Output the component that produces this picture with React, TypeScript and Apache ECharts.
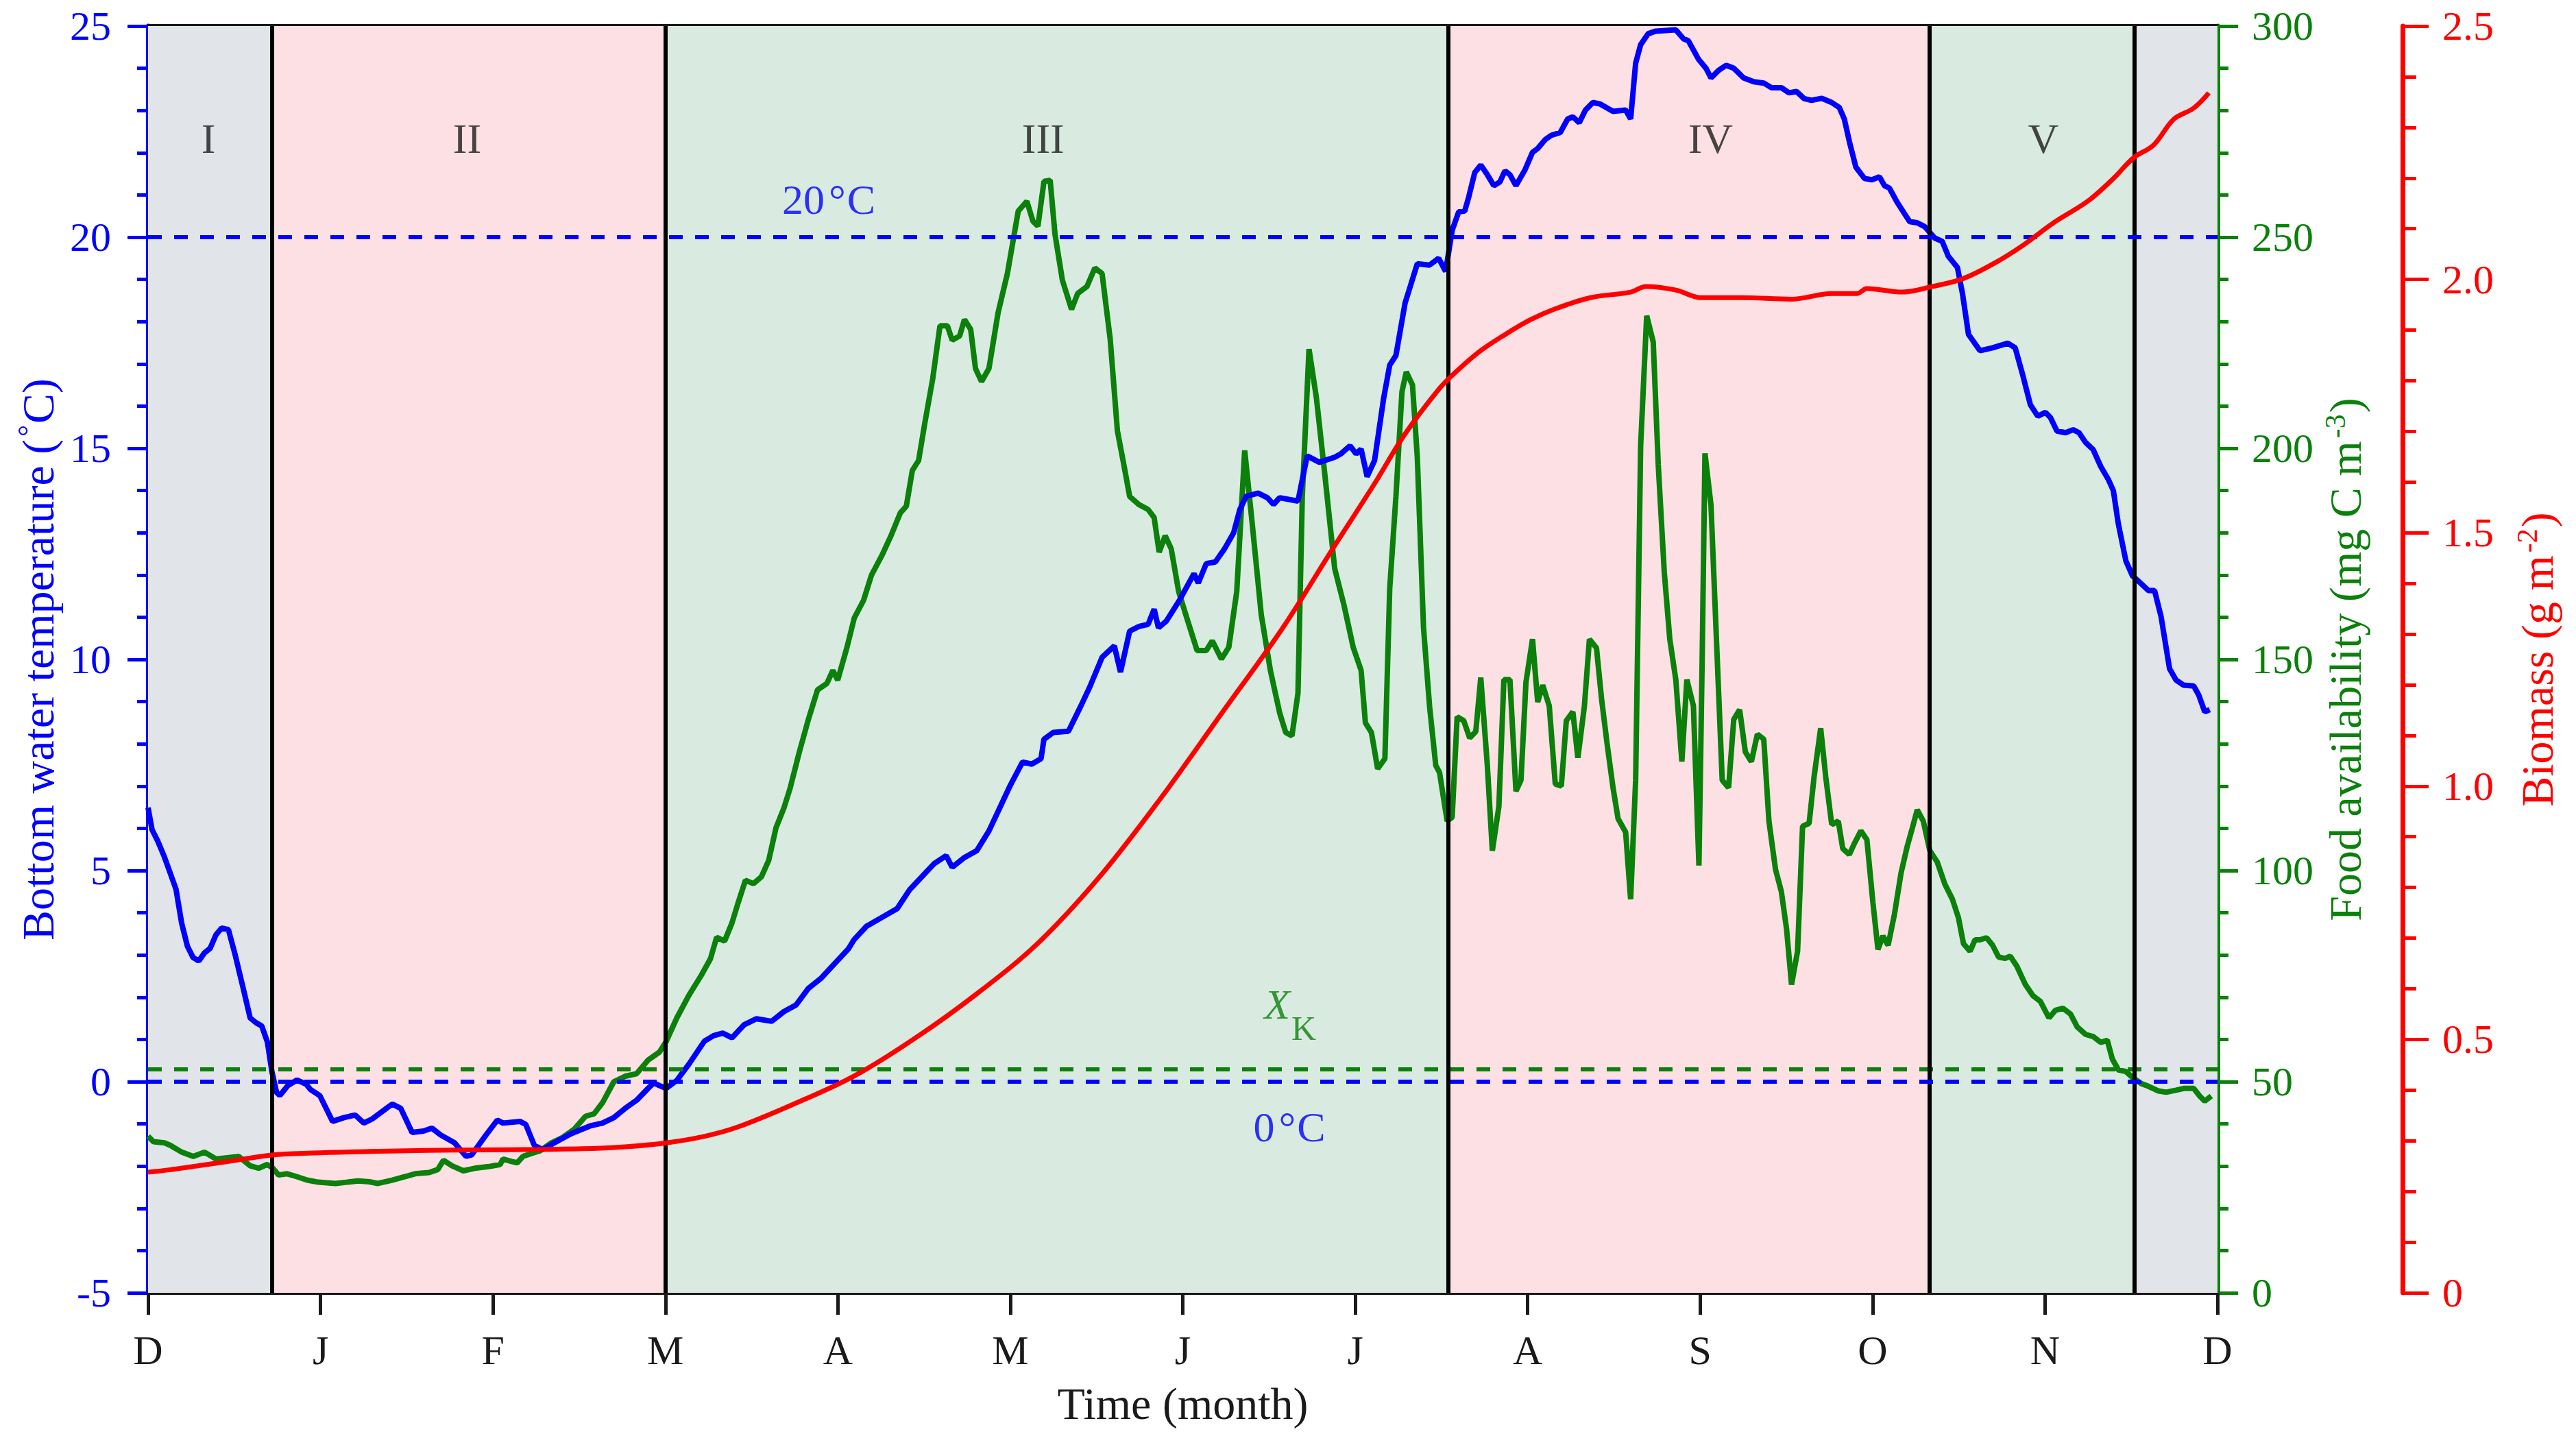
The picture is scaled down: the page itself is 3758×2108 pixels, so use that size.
import React, { useEffect, useRef } from 'react';
import * as echarts from 'echarts';

const FONT = "'Liberation Serif', 'Times New Roman', serif";
const BLUE = '#0000FF';
const GREEN = '#0B800B';
const RED = '#FF0000';
const DARK = '#1A1A1A';

const MONTH_LABELS = ['D', 'J', 'F', 'M', 'A', 'M', 'J', 'J', 'A', 'S', 'O', 'N', 'D'];
const PERIOD_EDGES = [0, 0.72, 3.0, 7.545, 10.33, 11.52, 12];
const PERIOD_COLORS = ['#E1E5EA', '#FDE0E4', '#D9EBE0', '#FDE0E4', '#D9EBE0', '#E1E5EA'];
const PERIOD_NAMES = ['I', 'II', 'III', 'IV', 'V'];
const PERIOD_LABEL_X = [0.35, 1.85, 5.19, 9.06, 10.99];
const PERIOD_LABEL_T = 22.34;
const TEMP_REFS = [20, 0];
const TEMP_REF_LABELS = [
  { x: 3.947, t: 20.89, text: '20' },
  { x: 6.618, t: -1.07, text: '0' },
];
const FOOD_XK = 53;
const XK_X = [6.547, 1.83];
const XK_K = [6.702, 1.27];

const TEMPERATURE = [
  [0, 6.49], [0.023, 5.97], [0.056, 5.7], [0.095, 5.32], [0.162, 4.56], [0.195, 3.75], [0.228, 3.21],
  [0.261, 2.94], [0.294, 2.86], [0.327, 3.05], [0.36, 3.16], [0.394, 3.48], [0.427, 3.64], [0.466, 3.6],
  [0.506, 2.99], [0.553, 2.19], [0.592, 1.51], [0.625, 1.4], [0.659, 1.32], [0.692, 0.94], [0.718, 0.24],
  [0.745, -0.25], [0.764, -0.33], [0.811, -0.09], [0.864, 0.04], [0.917, -0.06], [0.943, -0.19], [0.996, -0.33],
  [1.07, -0.94], [1.136, -0.85], [1.201, -0.79], [1.251, -0.98], [1.3, -0.88], [1.383, -0.63], [1.416, -0.53],
  [1.465, -0.63], [1.531, -1.2], [1.597, -1.17], [1.646, -1.1], [1.696, -1.26], [1.778, -1.45], [1.844, -1.77],
  [1.877, -1.73], [1.96, -1.26], [2.025, -0.91], [2.058, -0.98], [2.157, -0.94], [2.19, -1.01], [2.24, -1.51],
  [2.289, -1.61], [2.355, -1.45], [2.454, -1.23], [2.569, -1.04], [2.635, -0.98], [2.701, -0.85], [2.767, -0.63],
  [2.833, -0.44], [2.899, -0.16], [2.932, -0.03], [2.965, -0.09], [3.004, -0.16],
  [3.066, 0.03], [3.137, 0.42], [3.226, 0.96], [3.279, 1.09], [3.332, 1.15], [3.386, 1.04], [3.457, 1.35],
  [3.528, 1.49], [3.616, 1.43], [3.687, 1.66], [3.758, 1.82], [3.829, 2.21], [3.9, 2.44], [3.971, 2.75],
  [4.06, 3.14], [4.095, 3.37], [4.166, 3.68], [4.255, 3.89], [4.344, 4.1], [4.415, 4.54], [4.486, 4.85],
  [4.557, 5.16], [4.628, 5.35], [4.663, 5.08], [4.734, 5.31], [4.805, 5.47], [4.876, 5.94], [4.929, 6.4],
  [5.0, 7.02], [5.071, 7.57], [5.124, 7.52], [5.178, 7.65], [5.195, 8.11], [5.249, 8.27], [5.337, 8.3],
  [5.408, 8.89], [5.461, 9.35], [5.532, 10.05], [5.603, 10.32], [5.639, 9.7], [5.692, 10.67], [5.745, 10.78],
  [5.799, 10.83], [5.834, 11.19], [5.859, 10.75], [5.905, 10.91], [5.976, 11.37], [6.065, 12.03], [6.09, 11.81],
  [6.136, 12.27], [6.189, 12.31], [6.242, 12.62], [6.295, 13.0], [6.331, 13.55], [6.367, 13.86], [6.437, 13.94],
  [6.491, 13.83], [6.526, 13.67], [6.562, 13.83], [6.668, 13.75], [6.721, 14.82], [6.792, 14.67], [6.881, 14.79],
  [6.917, 14.87], [6.97, 15.06], [7.005, 14.87], [7.034, 14.98], [7.069, 14.33], [7.112, 14.71], [7.165, 16.19],
  [7.2, 16.97], [7.236, 17.2], [7.289, 18.44], [7.36, 19.37], [7.431, 19.34], [7.484, 19.5],
  [7.524, 19.19], [7.562, 20.16], [7.6, 20.6], [7.635, 20.62], [7.658, 20.95], [7.693, 21.53], [7.728, 21.71],
  [7.766, 21.48], [7.804, 21.22], [7.839, 21.31], [7.868, 21.57], [7.897, 21.48], [7.932, 21.22], [7.985, 21.6],
  [8.028, 22.01], [8.058, 22.1], [8.101, 22.31], [8.136, 22.41], [8.189, 22.48], [8.232, 22.8], [8.262, 22.85],
  [8.299, 22.71], [8.335, 23.01], [8.378, 23.19], [8.422, 23.15], [8.495, 22.98], [8.568, 23.01], [8.597, 22.8],
  [8.626, 24.12], [8.655, 24.56], [8.699, 24.82], [8.743, 24.88], [8.859, 24.91], [8.903, 24.7], [8.932, 24.65],
  [8.991, 24.21], [9.034, 24.0], [9.063, 23.77], [9.107, 23.95], [9.151, 24.07], [9.195, 24.0], [9.253, 23.77],
  [9.311, 23.68], [9.369, 23.65], [9.413, 23.54], [9.471, 23.54], [9.515, 23.42], [9.559, 23.45], [9.603, 23.28],
  [9.646, 23.24], [9.705, 23.29], [9.763, 23.19], [9.807, 23.07], [9.836, 22.8], [9.865, 22.27], [9.903, 21.66],
  [9.953, 21.39], [9.996, 21.36], [10.04, 21.43], [10.069, 21.22], [10.098, 21.16], [10.142, 20.83], [10.186, 20.55],
  [10.215, 20.37], [10.259, 20.34], [10.302, 20.25], [10.36, 19.98], [10.404, 19.9], [10.439, 19.55], [10.492, 19.28],
  [10.521, 18.67], [10.556, 17.7], [10.623, 17.31], [10.696, 17.38], [10.784, 17.49], [10.827, 17.38], [10.871, 16.73],
  [10.915, 16.03], [10.958, 15.76], [11.002, 15.85], [11.031, 15.73], [11.069, 15.41], [11.119, 15.37], [11.163, 15.44],
  [11.197, 15.37], [11.235, 15.14], [11.279, 14.97], [11.323, 14.57], [11.366, 14.27], [11.396, 14.0], [11.425, 13.21],
  [11.469, 12.33], [11.507, 11.98], [11.556, 11.8], [11.6, 11.63], [11.635, 11.63], [11.673, 11.01], [11.722, 9.78],
  [11.76, 9.51], [11.804, 9.39], [11.862, 9.37], [11.891, 9.16], [11.926, 8.76], [11.955, 8.81],
];

const FOOD = [
  [0, 37.1], [0.031, 35.8], [0.097, 35.5], [0.13, 34.9], [0.196, 33.3], [0.262, 32.3], [0.328, 33.3],
  [0.394, 31.7], [0.46, 32.0], [0.526, 32.3], [0.592, 30.1], [0.641, 29.5], [0.691, 30.4], [0.724, 29.5],
  [0.757, 27.9], [0.806, 28.2], [0.856, 27.6], [0.922, 26.7], [0.987, 26.2], [1.086, 25.9], [1.152, 26.2],
  [1.218, 26.5], [1.284, 26.3], [1.333, 25.9], [1.416, 26.7], [1.498, 27.6], [1.548, 28.2], [1.63, 28.5],
  [1.68, 29.2], [1.713, 31.4], [1.762, 30.1], [1.828, 28.9], [1.894, 29.5], [1.976, 29.9], [2.042, 30.4],
  [2.058, 31.7], [2.108, 31.1], [2.141, 30.8], [2.174, 32.3], [2.223, 33.0], [2.272, 33.6], [2.338, 35.5],
  [2.404, 36.8], [2.47, 38.7], [2.536, 41.8], [2.586, 42.4], [2.635, 45.0], [2.701, 50.0], [2.767, 51.3],
  [2.833, 51.9], [2.899, 55.1], [2.965, 57.0], [3.004, 59.5],
  [3.066, 65.1], [3.137, 70.5], [3.208, 75.2], [3.261, 79.1], [3.297, 84.2], [3.343, 83.3], [3.386, 87.6],
  [3.421, 92.3], [3.464, 97.7], [3.51, 96.9], [3.556, 98.5], [3.599, 102.4], [3.641, 110.1], [3.687, 114.8],
  [3.723, 119.5], [3.776, 128.0], [3.829, 135.8], [3.882, 142.8], [3.936, 144.3], [3.971, 147.4], [3.999, 145.1],
  [4.053, 152.9], [4.095, 159.8], [4.149, 164.0], [4.195, 170.0], [4.255, 174.6], [4.308, 179.3], [4.362, 184.7],
  [4.397, 186.3], [4.432, 194.8], [4.468, 197.1], [4.503, 205.7], [4.55, 216.5], [4.592, 229.0], [4.635, 229.0],
  [4.663, 225.6], [4.706, 226.6], [4.734, 230.5], [4.77, 228.2], [4.798, 218.9], [4.833, 215.8], [4.876, 218.9],
  [4.929, 232.1], [4.983, 241.4], [5.046, 256.2], [5.096, 258.5], [5.131, 253.8], [5.16, 252.6], [5.195, 263.2],
  [5.231, 263.5], [5.259, 250.7], [5.302, 239.8], [5.355, 232.9], [5.391, 236.7], [5.444, 238.3], [5.49, 242.7],
  [5.532, 241.4], [5.579, 225.9], [5.621, 204.1], [5.657, 196.4], [5.692, 188.6], [5.745, 186.7], [5.799, 185.5],
  [5.834, 183.6], [5.863, 175.4], [5.898, 179.3], [5.933, 176.2], [5.976, 166.1], [6.029, 159.1], [6.083, 152.1],
  [6.136, 152.1], [6.171, 154.4], [6.224, 150.1], [6.267, 152.9], [6.313, 166.1], [6.359, 199.5], [6.402, 182.4],
  [6.455, 160.6], [6.508, 147.4], [6.562, 137.3], [6.597, 132.7], [6.633, 131.9], [6.668, 142.0], [6.693, 188.6],
  [6.732, 223.5], [6.775, 211.9], [6.821, 194.8], [6.881, 171.5], [6.934, 163.0], [6.988, 152.9], [7.034, 147.4],
  [7.059, 135.0], [7.094, 132.7], [7.13, 124.1], [7.172, 126.5], [7.2, 166.8], [7.236, 188.6], [7.271, 213.4],
  [7.296, 218.1], [7.332, 215.0], [7.36, 197.9], [7.396, 157.5], [7.431, 138.9], [7.467, 124.9],
  [7.489, 123.2], [7.533, 111.7], [7.562, 112.6], [7.591, 136.4], [7.629, 135.5], [7.664, 131.4], [7.699, 132.9],
  [7.728, 145.7], [7.766, 124.9], [7.795, 104.7], [7.833, 115.2], [7.862, 145.2], [7.897, 145.2], [7.932, 118.8],
  [7.961, 121.4], [7.99, 144.6], [8.028, 154.8], [8.058, 139.9], [8.087, 143.9], [8.125, 139.0], [8.16, 120.5],
  [8.195, 120.0], [8.224, 135.5], [8.262, 137.6], [8.291, 126.7], [8.329, 139.0], [8.358, 154.8], [8.399, 152.7],
  [8.428, 140.8], [8.46, 130.2], [8.495, 119.6], [8.524, 112.3], [8.568, 109.1], [8.597, 93.2], [8.626, 121.4],
  [8.655, 200.6], [8.69, 231.4], [8.728, 225.2], [8.757, 196.2], [8.792, 170.7], [8.824, 154.8], [8.859, 145.2],
  [8.894, 125.8], [8.923, 145.2], [8.961, 139.0], [8.993, 101.2], [9.011, 147.8], [9.028, 198.8], [9.063, 186.5],
  [9.098, 151.3], [9.128, 121.4], [9.165, 119.6], [9.195, 135.8], [9.229, 138.1], [9.262, 128.1], [9.297, 125.8],
  [9.332, 132.3], [9.369, 131.1], [9.399, 111.7], [9.437, 100.3], [9.471, 95.0], [9.501, 86.2], [9.53, 73.0],
  [9.565, 80.9], [9.594, 110.5], [9.632, 111.2], [9.661, 122.3], [9.699, 133.7], [9.728, 122.3], [9.763, 110.9],
  [9.801, 111.7], [9.827, 105.2], [9.865, 103.8], [9.894, 106.4], [9.932, 109.4], [9.967, 107.3], [10.002, 92.4],
  [10.031, 81.3], [10.06, 84.5], [10.09, 82.3], [10.127, 89.7], [10.165, 99.4], [10.2, 105.6], [10.23, 110.0],
  [10.259, 114.4], [10.294, 111.7], [10.332, 104.7], [10.375, 102.0], [10.419, 96.8], [10.463, 93.2], [10.498, 88.8],
  [10.527, 82.7], [10.565, 80.9], [10.594, 83.6], [10.623, 83.6], [10.661, 84.1], [10.696, 82.3], [10.731, 79.5],
  [10.769, 79.2], [10.798, 79.7], [10.836, 77.4], [10.886, 73.0], [10.929, 70.4], [10.973, 69.0], [11.023, 65.1],
  [11.06, 66.9], [11.104, 67.4], [11.148, 66.0], [11.186, 63.0], [11.235, 61.2], [11.279, 60.7], [11.323, 59.3],
  [11.361, 59.8], [11.39, 55.4], [11.425, 52.8], [11.469, 52.4], [11.507, 51.0], [11.556, 49.6], [11.6, 48.9],
  [11.658, 47.8], [11.702, 47.5], [11.76, 48.0], [11.804, 48.4], [11.862, 48.4], [11.897, 46.6], [11.926, 45.4],
  [11.964, 46.6],
];

const BIOMASS = [
  [0, 0.238], [0.13, 0.243], [0.295, 0.251], [0.46, 0.259], [0.717, 0.272], [0.955, 0.276], [1.284, 0.279],
  [1.614, 0.281], [1.943, 0.282], [2.272, 0.283], [2.602, 0.285], [2.767, 0.288], [3.004, 0.296], [3.228, 0.309],
  [3.426, 0.328], [3.741, 0.372], [4.095, 0.428], [4.45, 0.503], [4.805, 0.59], [5.16, 0.69], [5.515, 0.82],
  [5.87, 0.975], [6.224, 1.143], [6.579, 1.312], [6.863, 1.465], [7.112, 1.597], [7.289, 1.695], [7.489, 1.785],
  [7.576, 1.815], [7.722, 1.858], [7.868, 1.891], [8.014, 1.92], [8.16, 1.942], [8.364, 1.964], [8.597, 1.975],
  [8.685, 1.986], [8.859, 1.979], [9.005, 1.964], [9.238, 1.964], [9.53, 1.961], [9.763, 1.972], [9.909, 1.972],
  [9.967, 1.982], [10.171, 1.975], [10.346, 1.986], [10.521, 2.001], [10.696, 2.03], [10.871, 2.067], [11.046, 2.111],
  [11.25, 2.155], [11.396, 2.199], [11.513, 2.24], [11.629, 2.265], [11.746, 2.316], [11.862, 2.338], [11.95, 2.368],
];

const dashed = (color: string) => ({ color, width: 6, type: [20, 18] as number[] });

function buildOption() {
  const tickLabel = (color: string, margin: number) => ({
    fontSize: 60,
    fontFamily: FONT,
    color,
    margin,
  });
  const yAxisBase = (color: string, major: number, minor: number) => ({
    type: 'value',
    axisLine: { show: true, onZero: false, lineStyle: { color, width: 7 } },
    axisTick: { show: true, inside: false, length: major, lineStyle: { color, width: 5 } },
    minorTick: { show: true, splitNumber: 5, length: minor, lineStyle: { color, width: 5 } },
    splitLine: { show: false },
    nameLocation: 'middle',
    nameRotate: 90,
  });
  const richName = (color: string) => ({
    fontFamily: FONT,
    color,
    rich: {
      a: { fontSize: 66, fontFamily: FONT, color, lineHeight: 70 },
      s: { fontSize: 42, fontFamily: FONT, color, lineHeight: 42, verticalAlign: 'top', padding: [0, 2, 0, 4] },
    },
  });

  const bands = PERIOD_COLORS.map((c, i) => [
    { xAxis: PERIOD_EDGES[i], itemStyle: { color: c } },
    { xAxis: PERIOD_EDGES[i + 1] },
  ]);
  const boundaries = PERIOD_EDGES.slice(1, -1).map((x) => ({
    xAxis: x,
    lineStyle: { color: '#000000', width: 6, type: 'solid' },
  }));

  return {
    animation: false,
    backgroundColor: '#ffffff',
    grid: { left: 216, right: 523, top: 38, bottom: 222, containLabel: false },
    xAxis: [
      {
        type: 'value',
        min: 0,
        max: 12,
        interval: 1,
        position: 'bottom',
        axisLine: { show: true, onZero: false, lineStyle: { color: DARK, width: 6 } },
        axisTick: { show: true, inside: false, length: 32, lineStyle: { color: DARK, width: 5 } },
        axisLabel: { ...tickLabel(DARK, 54), formatter: (v: number) => MONTH_LABELS[Math.round(v)] ?? '' },
        splitLine: { show: false },
        name: 'Time (month)',
        nameLocation: 'middle',
        nameGap: 128,
        nameTextStyle: { fontSize: 66, fontFamily: FONT, color: DARK },
      },
      {
        type: 'value',
        min: 0,
        max: 12,
        position: 'top',
        axisLine: { show: true, onZero: false, lineStyle: { color: DARK, width: 6 } },
        axisTick: { show: false },
        axisLabel: { show: false },
        splitLine: { show: false },
      },
    ],
    yAxis: [
      {
        ...yAxisBase(BLUE, 30, 16),
        position: 'left',
        min: -5,
        max: 25,
        interval: 5,
        axisLabel: tickLabel(BLUE, 54),
        name: '{a|Bottom water temperature (}{s|°}{a|C)}',
        nameGap: 126,
        nameTextStyle: richName(BLUE),
      },
      {
        ...yAxisBase(GREEN, 30, 16),
        position: 'right',
        offset: 0,
        min: 0,
        max: 300,
        interval: 50,
        axisLabel: tickLabel(GREEN, 50),
        name: '{a|Food availability (mg C m}{s|-3}{a|)}',
        nameGap: 151,
        nameTextStyle: richName(GREEN),
      },
      {
        ...yAxisBase(RED, 38, 20),
        position: 'right',
        offset: 270,
        min: 0,
        max: 2.5,
        interval: 0.5,
        axisLabel: { ...tickLabel(RED, 58), formatter: (v: number) => (v === 0 ? '0' : v.toFixed(1)) },
        name: '{a|Biomass (g m}{s|-2}{a|)}',
        nameGap: 161,
        nameTextStyle: richName(RED),
      },
    ],
    series: [
      {
        name: 'Food availability',
        type: 'line',
        yAxisIndex: 1,
        data: FOOD,
        symbol: 'none',
        lineStyle: { color: GREEN, width: 8 },
        itemStyle: { color: GREEN },
        z: 3,
        silent: true,
        markArea: { silent: true, data: bands, label: { show: false } },
        markLine: {
          silent: true,
          symbol: ['none', 'none'],
          label: { show: false },
          data: [{ yAxis: FOOD_XK, lineStyle: dashed(GREEN) }, ...boundaries],
        },
      },
      {
        name: 'Temperature',
        type: 'line',
        yAxisIndex: 0,
        data: TEMPERATURE,
        symbol: 'none',
        lineStyle: { color: BLUE, width: 8 },
        itemStyle: { color: BLUE },
        z: 4,
        silent: true,
        markLine: {
          silent: true,
          symbol: ['none', 'none'],
          label: { show: false },
          data: TEMP_REFS.map((t) => ({ yAxis: t, lineStyle: dashed(BLUE) })),
        },
      },
      {
        name: 'Biomass',
        type: 'line',
        yAxisIndex: 2,
        data: BIOMASS,
        symbol: 'none',
        smooth: 0.35,
        lineStyle: { color: RED, width: 7 },
        itemStyle: { color: RED },
        z: 5,
        silent: true,
      },
      {
        name: 'Period labels',
        type: 'scatter',
        yAxisIndex: 0,
        symbolSize: 1,
        itemStyle: { color: 'rgba(0,0,0,0)' },
        silent: true,
        z: 6,
        data: PERIOD_NAMES.map((n, i) => ({
          value: [PERIOD_LABEL_X[i], PERIOD_LABEL_T],
          label: { formatter: n },
        })),
        label: { show: true, position: 'inside', fontSize: 62, fontFamily: FONT, color: DARK },
      },
      {
        name: 'Reference labels',
        type: 'scatter',
        yAxisIndex: 0,
        symbolSize: 1,
        itemStyle: { color: 'rgba(0,0,0,0)' },
        silent: true,
        z: 6,
        data: TEMP_REF_LABELS.map((r) => ({
          value: [r.x, r.t],
          label: { formatter: `{a|${r.text}}{d|°}{a|C}` },
        })),
        label: {
          show: true,
          position: 'inside',
          rich: {
            a: { fontSize: 62, fontFamily: FONT, color: BLUE },
            d: { fontSize: 62, fontFamily: FONT, color: BLUE, padding: [0, 2, 0, 6] },
          },
        },
      },
      {
        name: 'XK labels',
        type: 'scatter',
        yAxisIndex: 0,
        symbolSize: 1,
        itemStyle: { color: 'rgba(0,0,0,0)' },
        silent: true,
        z: 6,
        data: [
          { value: XK_X, label: { formatter: 'X', fontSize: 62, fontStyle: 'italic' } },
          { value: XK_K, label: { formatter: 'K', fontSize: 50 } },
        ],
        label: { show: true, position: 'inside', fontFamily: FONT, color: GREEN },
      },
    ],
  };
}

export default function App() {
  const ref = useRef<HTMLDivElement>(null);
  useEffect(() => {
    document.body.style.margin = '0';
    if (!ref.current) return;
    const chart = echarts.init(ref.current, undefined, { renderer: 'svg' });
    chart.setOption(buildOption() as any);
    return () => chart.dispose();
  }, []);
  return <div ref={ref} style={{ width: 3758, height: 2108, background: '#fff' }} />;
}
